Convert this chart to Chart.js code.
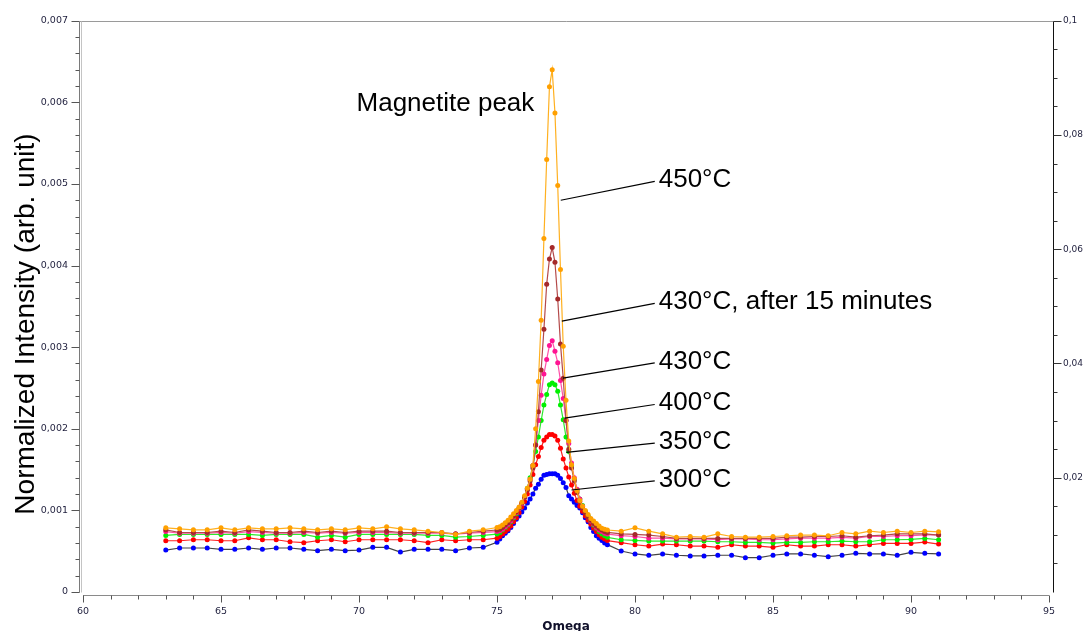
<!DOCTYPE html>
<html>
<head>
<meta charset="utf-8">
<script src="https://cdn.jsdelivr.net/npm/chart.js@4.4.1/dist/chart.umd.min.js"></script>
<style>
  html, body { margin: 0; padding: 0; background: #ffffff; }
  #wrap { width: 1084px; height: 631px; position: relative; }
</style>
</head>
<body>
<div id="wrap"><canvas id="c" width="1084" height="631"></canvas></div>
<script>
// ---- Data (Omega positions and normalized intensities) ----
const omega = [
  63, 63.5, 64, 64.5, 65, 65.5, 66, 66.5, 67, 67.5, 68, 68.5, 69, 69.5, 70, 70.5, 71, 71.5, 72, 72.5, 73, 73.5, 74, 74.5,
  75.0, 75.1, 75.2, 75.3, 75.4, 75.5, 75.6, 75.7, 75.8, 75.9,
  76.0, 76.1, 76.2, 76.3, 76.4, 76.5, 76.6, 76.7, 76.8, 76.9,
  77.0, 77.1, 77.2, 77.3, 77.4, 77.5, 77.6, 77.7, 77.8, 77.9,
  78.0, 78.1, 78.2, 78.3, 78.4, 78.5, 78.6, 78.7, 78.8, 78.9, 79.0,
  79.5, 80, 80.5, 81, 81.5, 82, 82.5, 83, 83.5, 84, 84.5, 85, 85.5, 86, 86.5, 87, 87.5, 88, 88.5, 89, 89.5, 90, 90.5, 91
];

const t450 = [
  0.000786, 0.000774, 0.000762, 0.000762, 0.000786, 0.000762, 0.000786, 0.000774, 0.000774, 0.000786, 0.000774, 0.000762,
  0.000774, 0.000762, 0.000786, 0.000774, 0.000798, 0.000774, 0.000762, 0.000745, 0.000729, 0.000705, 0.000745, 0.000762,
  0.00079, 0.00080, 0.00082, 0.00085, 0.00088, 0.00092, 0.00096, 0.00100, 0.00104, 0.00110,
  0.00118, 0.00127, 0.00138, 0.00155, 0.00200, 0.00258, 0.00333, 0.00433, 0.00530, 0.00619,
  0.00640, 0.00587, 0.00498, 0.00395, 0.00301, 0.00235, 0.00185, 0.00156, 0.00139, 0.00124,
  0.00112, 0.00105, 0.00100, 0.00095, 0.00090, 0.00087, 0.00084, 0.00081, 0.00078, 0.00077, 0.00076,
  0.000745, 0.000786, 0.000745, 0.000713, 0.000672, 0.00068, 0.000672, 0.000713, 0.00068, 0.000672, 0.000672, 0.00068,
  0.000689, 0.000697, 0.000697, 0.000689, 0.000729, 0.000713, 0.000745, 0.000729, 0.000745, 0.000729, 0.000745, 0.000737
];

const t430after15 = [
  0.000762, 0.000729, 0.000729, 0.000729, 0.000745, 0.000729, 0.000762, 0.000745, 0.000729, 0.000729, 0.000745, 0.000729,
  0.000745, 0.000729, 0.000745, 0.000745, 0.000745, 0.000729, 0.000729, 0.000729, 0.000729, 0.000713, 0.000729, 0.000745,
  0.00076, 0.00077, 0.00079, 0.00082, 0.00085, 0.00089, 0.00093, 0.00098, 0.00103, 0.00109,
  0.00116, 0.00125, 0.00136, 0.00152, 0.00180, 0.00221, 0.00272, 0.00322, 0.00377, 0.00408,
  0.00422, 0.00404, 0.00359, 0.00304, 0.00262, 0.00210, 0.00175, 0.00152, 0.00136, 0.00122,
  0.00111, 0.00103, 0.00097, 0.00092, 0.00088, 0.00084, 0.00081, 0.00078, 0.00076, 0.00074, 0.00073,
  0.000713, 0.000705, 0.000697, 0.00068, 0.000656, 0.000656, 0.000656, 0.000656, 0.000656, 0.000656, 0.000656, 0.000656,
  0.000672, 0.000672, 0.00068, 0.00068, 0.000689, 0.000672, 0.000689, 0.000697, 0.000713, 0.000713, 0.000713, 0.000697
];

const t430 = [
  0.00074, 0.00072, 0.00072, 0.00072, 0.00073, 0.00072, 0.00074, 0.00073, 0.00072, 0.00072, 0.00073, 0.00072,
  0.00073, 0.00072, 0.00073, 0.00073, 0.00073, 0.00072, 0.00072, 0.00072, 0.00072, 0.00071, 0.00072, 0.00073,
  0.00074, 0.00075, 0.00077, 0.00080, 0.00083, 0.00087, 0.00092, 0.00097, 0.00102, 0.00108,
  0.00116, 0.00126, 0.00138, 0.00155, 0.00180, 0.00210, 0.00241, 0.00267, 0.00285, 0.00302,
  0.00308, 0.00295, 0.00281, 0.00259, 0.00237, 0.00210, 0.00182, 0.00158, 0.00140, 0.00126,
  0.00114, 0.00105, 0.00098, 0.00092, 0.00087, 0.00083, 0.00079, 0.00076, 0.00074, 0.00072, 0.00071,
  0.00069, 0.00068, 0.00066, 0.00066, 0.00065, 0.00065, 0.00065, 0.00064, 0.00065, 0.00065, 0.00064, 0.00064,
  0.00065, 0.00066, 0.00066, 0.00066, 0.00067, 0.00066, 0.00068, 0.00068, 0.00069, 0.00069, 0.00070, 0.00070
];

const t400 = [
  0.000693, 0.000705, 0.000705, 0.000705, 0.000705, 0.000705, 0.000705, 0.000693, 0.000705, 0.000705, 0.000705, 0.000672,
  0.000693, 0.000672, 0.000705, 0.000705, 0.000705, 0.000705, 0.000705, 0.000693, 0.000693, 0.000672, 0.000680, 0.000693,
  0.00071, 0.00073, 0.00076, 0.00079, 0.00082, 0.00086, 0.00091, 0.00096, 0.00102, 0.00108,
  0.00116, 0.00127, 0.00140, 0.00155, 0.00172, 0.00190, 0.00210, 0.00229, 0.00242, 0.00254,
  0.00256, 0.00254, 0.00246, 0.00229, 0.00211, 0.00190, 0.00172, 0.00155, 0.00138, 0.00125,
  0.00114, 0.00106, 0.00099, 0.00093, 0.00087, 0.00082, 0.00078, 0.00074, 0.00071, 0.00069, 0.00067,
  0.00064, 0.000632, 0.000624, 0.000624, 0.000624, 0.000624, 0.000624, 0.000616, 0.000616, 0.000608, 0.000608, 0.0006,
  0.000608, 0.000608, 0.000616, 0.000616, 0.000624, 0.000616, 0.000616, 0.00064, 0.00064, 0.000644, 0.000656, 0.00064
];

const t350 = [
  0.000628, 0.000628, 0.00064, 0.00064, 0.000628, 0.000628, 0.000664, 0.00064, 0.00064, 0.000616, 0.000604, 0.000628,
  0.00064, 0.000616, 0.00064, 0.00064, 0.00064, 0.00064, 0.000628, 0.000604, 0.00064, 0.000628, 0.00064, 0.00064,
  0.00066, 0.00068, 0.00071, 0.00074, 0.00077, 0.00081, 0.00086, 0.00091, 0.00097, 0.00104,
  0.00111, 0.00120, 0.00131, 0.00144, 0.00156, 0.00166, 0.00177, 0.00186, 0.00190, 0.00193,
  0.00193, 0.00191, 0.00186, 0.00176, 0.00163, 0.00152, 0.00141, 0.00131, 0.00121, 0.00112,
  0.00105, 0.00099, 0.00093, 0.00088, 0.00083, 0.00078, 0.00074, 0.00070, 0.00067, 0.00065, 0.00063,
  0.000604, 0.000579, 0.000563, 0.000587, 0.000579, 0.000563, 0.000563, 0.000547, 0.000579, 0.000563, 0.000563, 0.000547,
  0.000579, 0.000563, 0.000563, 0.000579, 0.000579, 0.000563, 0.000579, 0.000595, 0.000595, 0.000595, 0.000612, 0.000587
];

const t300 = [
  0.000514, 0.000539, 0.000539, 0.000539, 0.000523, 0.000523, 0.000539, 0.000523, 0.000539, 0.000539, 0.000523, 0.000506,
  0.000523, 0.000506, 0.000514, 0.000547, 0.000547, 0.00049, 0.000523, 0.000523, 0.000523, 0.000506, 0.000539, 0.000547,
  0.00061, 0.00065, 0.00069, 0.00072, 0.00075, 0.00079, 0.00084, 0.00089, 0.00093, 0.00098,
  0.00103, 0.00109, 0.00114, 0.00120, 0.00127, 0.00132, 0.00138, 0.00143, 0.00144, 0.00145,
  0.00145, 0.00145, 0.00143, 0.00139, 0.00134, 0.00128, 0.00118, 0.00114, 0.00110, 0.00106,
  0.00103, 0.00097, 0.00091, 0.00086, 0.00079, 0.00074, 0.00069, 0.00066, 0.00063, 0.00060, 0.00058,
  0.000502, 0.000466, 0.00045, 0.000466, 0.00045, 0.000442, 0.000442, 0.00045, 0.00045, 0.000421, 0.000421, 0.00045,
  0.000466, 0.000466, 0.00045, 0.000433, 0.00045, 0.000474, 0.000466, 0.000466, 0.00045, 0.000486, 0.000474, 0.000466
];

// Series labels and annotation anchors (data coordinates)
const seriesNames = ['450°C', '430°C, after 15 minutes', '430°C', '400°C', '350°C', '300°C'];
const labelX = [80.86, 80.86, 80.86, 80.86, 80.86, 80.86];
const labelY = [0.004958, 0.003464, 0.002734, 0.002224, 0.00175, 0.001288];
const leaderX = [77.31, 77.35, 77.39, 77.45, 77.51, 77.70];
const leaderY = [0.00480, 0.00332, 0.00262, 0.00213, 0.00171, 0.00125];
const peakText = 'Magnetite peak';
const peakX = 69.91;
const peakY = 0.005894;

// Axis tick definitions
const xTickStep = 5, xMinorStep = 1;
const yTickStep = 0.001, yMinorStep = 0.0002;
const y2TickStep = 0.02, y2MinorStep = 0.005;

// ---- Styles ----
const pointColors = ['#ffa000', '#a52a2a', '#ff1493', '#00f000', '#ff0000', '#0000ff'];
const lineColors  = ['#ffb020', '#b44a4a', '#ff50a8', '#30e830', '#ff2020', '#444444'];
const seriesData  = [t450, t430after15, t430, t400, t350, t300];

const datasets = seriesData.map((arr, i) => ({
  label: seriesNames[i],
  data: omega.map((x, j) => ({ x: x, y: arr[j] })),
  borderColor: lineColors[i],
  backgroundColor: pointColors[i],
  pointBackgroundColor: pointColors[i],
  pointBorderColor: pointColors[i],
  pointBorderWidth: 0,
  pointRadius: 2.5,
  borderWidth: 1.2,
  tension: 0,
  fill: false
}));

const tickColor = '#1e1e3c';
const tickFont = { family: 'DejaVu Sans', size: 9.5 };
const tickFontRight = { family: 'DejaVu Sans', size: 9 };
const fmt = (v, d) => v === 0 ? '0' : Number(v.toFixed(d)).toString().replace('.', ',');

const decorPlugin = {
  id: 'decor',
  afterDraw(chart) {
    const { ctx, chartArea: a } = chart;
    const sx = chart.scales.x, sy = chart.scales.y, sy2 = chart.scales.y2;
    ctx.save();
    const seg = (x1, y1, x2, y2, c, w) => {
      ctx.beginPath(); ctx.strokeStyle = c; ctx.lineWidth = w || 1;
      ctx.moveTo(x1, y1); ctx.lineTo(x2, y2); ctx.stroke();
    };
    const top = Math.round(a.top) + 0.5;
    const bot = Math.round(a.bottom) + 0.5;
    const L = Math.round(a.left), R = Math.round(a.right);
    // frame
    seg(L - 3, top, R + 4.5, top, '#9a9a9a');
    seg(L - 3.5, top, L - 3.5, bot, '#7a7a7a');
    seg(L - 1.5, top, L - 1.5, bot, '#c4c4c4');
    seg(R + 4.5, top, R + 4.5, bot, '#111111');
    seg(L, bot + 3, R, bot + 3, '#8a8a8a');
    // left ticks
    for (let v = 0; v <= sy.max + 1e-9; v += yMinorStep) {
      const major = Math.abs(v / yTickStep - Math.round(v / yTickStep)) < 1e-6;
      const py = Math.round(sy.getPixelForValue(v)) + 0.5;
      seg(L - 3.5, py, L - (major ? 11.5 : 7.5), py, '#555555');
    }
    // right ticks
    for (let v = 0; v <= sy2.max + 1e-9; v += y2MinorStep) {
      const major = Math.abs(v / y2TickStep - Math.round(v / y2TickStep)) < 1e-6;
      const py = Math.round(sy2.getPixelForValue(v)) + 0.5;
      if (v === 0) continue;
      seg(R + 4.5, py, R + (major ? 12.5 : 8.5), py, '#333333');
    }
    // bottom ticks
    for (let v = sx.min; v <= sx.max + 1e-9; v += xMinorStep) {
      const major = Math.abs(v / xTickStep - Math.round(v / xTickStep)) < 1e-6;
      const px = Math.round(sx.getPixelForValue(v)) + 0.5;
      seg(px, bot + 3, px, bot + (major ? 10 : 7), '#555555');
    }
    // axis titles
    ctx.fillStyle = '#000000';
    ctx.font = '28px "Liberation Sans", Arial, sans-serif';
    ctx.textAlign = 'center'; ctx.textBaseline = 'middle';
    ctx.save();
    ctx.translate(26, 324);
    ctx.rotate(-Math.PI / 2);
    ctx.fillText('Normalized Intensity (arb. unit)', 0, 0);
    ctx.restore();
    ctx.font = 'bold 12px "DejaVu Sans", sans-serif';
    ctx.fillStyle = '#10102a';
    ctx.textBaseline = 'alphabetic';
    ctx.fillText('Omega', (a.left + a.right) / 2, 630);
    // annotations
    ctx.fillStyle = '#000000';
    ctx.font = '26px "Liberation Sans", Arial, sans-serif';
    ctx.textAlign = 'left'; ctx.textBaseline = 'alphabetic';
    ctx.fillText(peakText, sx.getPixelForValue(peakX), sy.getPixelForValue(peakY));
    for (let i = 0; i < seriesNames.length; i++) {
      const lx = sx.getPixelForValue(labelX[i]);
      const ly = sy.getPixelForValue(labelY[i]);
      ctx.fillText(seriesNames[i], lx, ly);
      seg(sx.getPixelForValue(leaderX[i]), sy.getPixelForValue(leaderY[i]), lx - 4, ly - 6, '#000000', 1.2);
    }
    ctx.restore();
  }
};

new Chart(document.getElementById('c'), {
  type: 'line',
  data: { datasets: datasets },
  options: {
    responsive: false,
    animation: false,
    layout: { padding: { top: 15, left: 0, right: 0, bottom: 0 } },
    plugins: { legend: { display: false }, tooltip: { enabled: false } },
    scales: {
      x: {
        type: 'linear', min: 60, max: 95,
        grid: { display: false, drawTicks: false }, border: { display: false },
        ticks: { stepSize: xTickStep, padding: 14, color: tickColor, font: tickFont, maxRotation: 0, autoSkip: false },
        afterFit: s => { s.height = 39; }
      },
      y: {
        position: 'left', min: 0, max: 0.007,
        grid: { display: false, drawTicks: false }, border: { display: false },
        ticks: { stepSize: yTickStep, padding: 15, color: tickColor, font: tickFont, autoSkip: false, callback: v => fmt(v, 3) },
        afterFit: s => { s.width = 83; }
      },
      y2: {
        position: 'right', min: 0, max: 0.1,
        grid: { display: false, drawTicks: false }, border: { display: false },
        ticks: { stepSize: y2TickStep, padding: 14, color: tickColor, font: tickFontRight, autoSkip: false, callback: v => v === 0 ? '' : fmt(v, 2) },
        afterFit: s => { s.width = 35; }
      }
    }
  },
  plugins: [decorPlugin]
});
</script>
</body>
</html>
